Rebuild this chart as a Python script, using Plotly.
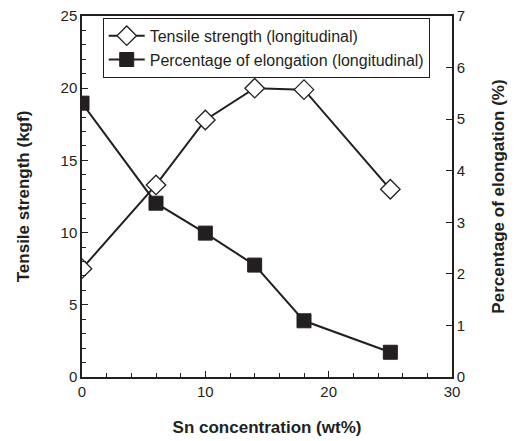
import plotly.graph_objects as go

sn = [0, 6, 10, 14, 18, 25]
tensile = [7.5, 13.3, 17.8, 20.0, 19.9, 13.0]
elong = [5.31, 3.37, 2.79, 2.17, 1.09, 0.48]

ink = "#231f20"
fam = "Liberation Sans, Arial, sans-serif"
fig = go.Figure()
fig.add_trace(go.Scatter(x=sn, y=tensile, mode="lines+markers",
    name="Tensile strength (longitudinal)",
    line=dict(color=ink, width=2),
    marker=dict(symbol="diamond", size=15, color="white", line=dict(color=ink, width=1.3))))
fig.add_trace(go.Scatter(x=sn, y=elong, mode="lines+markers", yaxis="y2",
    name="Percentage of elongation (longitudinal)",
    line=dict(color=ink, width=2),
    marker=dict(symbol="square", size=14, color=ink, line=dict(color=ink, width=1))))

font = dict(family=fam, size=14, color=ink)
tfont = dict(family=fam, size=17, color=ink, weight="bold")
tick = dict(family=fam, size=15, color=ink)
# page body has an 8px margin, so the figure is 8px smaller than the window
fig.update_layout(
    width=508, height=433,
    margin=dict(l=74, r=64, t=8, b=64),
    paper_bgcolor="white", plot_bgcolor="white",
    font=font,
    showlegend=True,
    legend=dict(x=0.056, y=0.995, xanchor="left", yanchor="top",
                bordercolor=ink, borderwidth=1, bgcolor="white",
                font=dict(family=fam, size=16, color=ink),
                tracegroupgap=0, itemwidth=36),
    xaxis=dict(range=[0, 30], dtick=10, ticks="inside", ticklen=6, tickcolor=ink,
               tickfont=tick, automargin=False, ticklabeloverflow="allow",
               showline=True, linecolor=ink, linewidth=1.5, mirror=True, showgrid=False,
               zeroline=False,
               minor=dict(dtick=2, ticks="inside", ticklen=4, tickcolor=ink),
               title=dict(text="Sn concentration (wt%)", font=tfont, standoff=22)),
    yaxis=dict(range=[0, 25], dtick=5, ticks="inside", ticklen=6, tickcolor=ink,
               tickfont=tick, automargin=False, ticklabeloverflow="allow",
               showline=True, linecolor=ink, linewidth=1.5, showgrid=False, zeroline=False,
               minor=dict(dtick=1, ticks="inside", ticklen=4, tickcolor=ink),
               title=dict(text="Tensile strength (kgf)", font=tfont, standoff=27)),
    yaxis2=dict(range=[0, 7], dtick=1, ticks="inside", ticklen=6, tickcolor=ink,
                tickfont=tick, automargin=False, ticklabeloverflow="allow",
                overlaying="y", side="right",
                showline=True, linecolor=ink, linewidth=1.5, showgrid=False, zeroline=False,
                title=dict(text="Percentage of elongation (%)", font=tfont, standoff=28)),
)
fig.write_html("out.html")
